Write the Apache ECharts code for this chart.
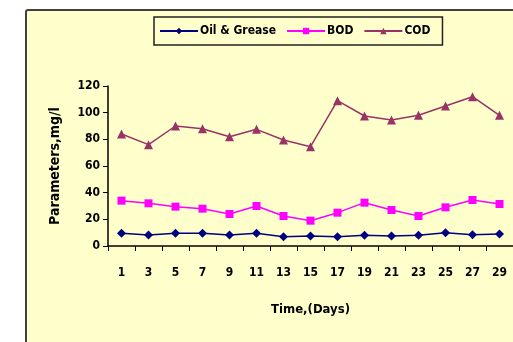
<!DOCTYPE html>
<html>
<head>
<meta charset="utf-8">
<script src="https://cdn.jsdelivr.net/npm/echarts@6/dist/echarts.min.js"></script>
<style>
  html, body { margin: 0; padding: 0; background: #ffffff; }
  #chart { width: 513px; height: 342px; }
</style>
</head>
<body>
<div id="chart"></div>
<script>
// Sampling days (every second day)
const days = ['1', '3', '5', '7', '9', '11', '13', '15', '17', '19', '21', '23', '25', '27', '29'];

// Measured parameters, mg/l
const oilGrease = [9.5, 8.3, 9.5, 9.5, 8.3, 9.5, 7, 7.5, 7, 8, 7.5, 8, 10, 8.5, 9];
const bod = [34, 32, 29.5, 28, 24, 30, 22.5, 19, 25, 32.5, 27, 22.5, 29, 34.5, 31.5];
const cod = [84, 76, 90, 88, 82, 87.5, 79.5, 74.5, 109, 97.5, 94.5, 98, 105, 112, 98];

const FONT = "'Liberation Sans Narrow', 'DejaVu Sans Condensed', sans-serif";
const catWidth = 27.85;

const chart = echarts.init(document.getElementById('chart'), null, { renderer: 'canvas' });

chart.setOption({
  animation: false,
  backgroundColor: '#ffffff',
  graphic: [
    {
      type: 'rect',
      z: -10,
      shape: { x: 26, y: 10, width: 600, height: 400, r: 2 },
      style: { fill: '#FFFFCC', stroke: '#404040', lineWidth: 2 }
    }
  ],
  legend: {
    top: 17,
    left: 154,
    width: 300,
    padding: [8, 12, 8, 5],
    borderColor: '#222',
    borderWidth: 1.5,
    itemWidth: 38,
    itemHeight: 8,
    itemGap: 10,
    textStyle: { fontFamily: FONT, fontWeight: 'bold', fontSize: 12, color: '#000', padding: [0, 0, 0, -3] },
    data: ['Oil & Grease', 'BOD', 'COD']
  },
  grid: {
    left: 108,
    top: 86,
    height: 160,
    width: catWidth * days.length,
    containLabel: false
  },
  xAxis: {
    type: 'category',
    data: days,
    boundaryGap: true,
    name: 'Time,(Days)',
    nameLocation: 'middle',
    nameGap: 57,
    nameTextStyle: { fontFamily: FONT, fontWeight: 'bold', fontSize: 13, color: '#000' },
    axisLine: { lineStyle: { color: '#000', width: 1.5 } },
    axisTick: { show: true, inside: false, length: 5, interval: 0, lineStyle: { color: '#000' } },
    axisLabel: { interval: 0, margin: 21, fontFamily: FONT, fontWeight: 'bold', fontSize: 12, color: '#000' },
    splitLine: { show: false }
  },
  yAxis: {
    type: 'value',
    min: 0,
    max: 120,
    interval: 20,
    name: 'Parameters,mg/l',
    nameLocation: 'middle',
    nameGap: 46,
    nameTextStyle: { fontFamily: FONT, fontWeight: 'bold', fontSize: 14, color: '#000' },
    axisLine: { show: true, lineStyle: { color: '#000', width: 1.5 } },
    axisTick: { show: true, inside: false, length: 5, lineStyle: { color: '#000' } },
    axisLabel: { margin: 8, fontFamily: FONT, fontWeight: 'bold', fontSize: 12, color: '#000' },
    splitLine: { show: false }
  },
  series: [
    {
      name: 'Oil & Grease',
      type: 'line',
      data: oilGrease,
      symbol: 'diamond',
      symbolSize: 9,
      color: '#000080',
      lineStyle: { width: 1.5, color: '#000080' },
      itemStyle: { color: '#000080' }
    },
    {
      name: 'BOD',
      type: 'line',
      data: bod,
      symbol: 'rect',
      symbolSize: 8,
      color: '#FF00FF',
      lineStyle: { width: 1.5, color: '#FF00FF' },
      itemStyle: { color: '#FF00FF' }
    },
    {
      name: 'COD',
      type: 'line',
      data: cod,
      symbol: 'triangle',
      symbolSize: 9,
      color: '#993366',
      lineStyle: { width: 1.5, color: '#993366' },
      itemStyle: { color: '#993366' }
    }
  ]
});
</script>
</body>
</html>
